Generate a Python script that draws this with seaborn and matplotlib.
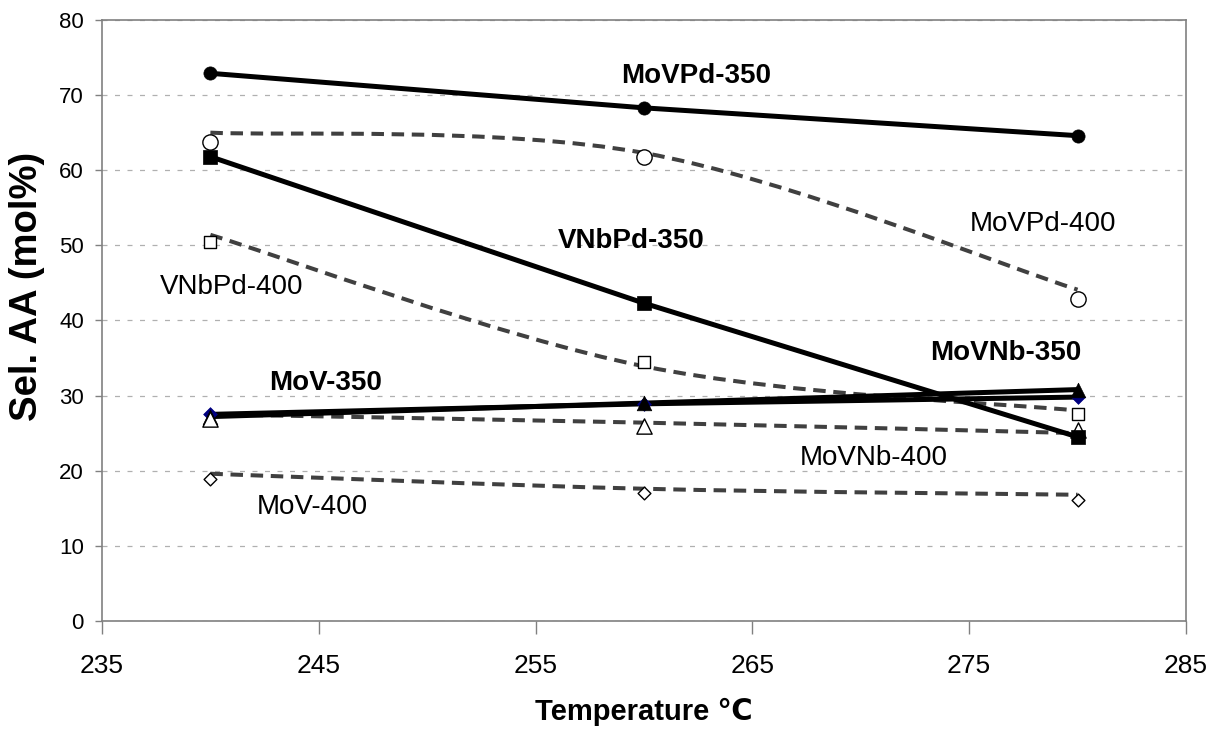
import numpy as np
import pandas as pd
import seaborn as sns
import matplotlib.pyplot as plt
from matplotlib.path import Path
from matplotlib.patches import PathPatch

# temperatures (deg C)
temps = [240, 260, 280]

# calcined at 350 - solid lines, markers on the line
movpd_350 = [72.9, 68.3, 64.6]
vnbpd_350 = [61.8, 42.3, 24.5]
mov_350 = [27.5, 28.9, 29.8]
movnb_350 = [27.2, 29.0, 30.8]

# calcined at 400 - open markers and smoothed dashed curves
movpd_400_pts = [63.8, 61.7, 42.9]
movpd_400_line = [65.0, 62.3, 44.1]
vnbpd_400_pts = [50.5, 34.5, 27.6]
vnbpd_400_line = [51.4, 33.9, 28.0]
movnb_400_pts = [26.9, 26.0, 25.4]
movnb_400_line = [27.5, 26.4, 25.0]
mov_400_pts = [18.9, 17.1, 16.1]
mov_400_line = [19.6, 17.6, 16.8]

yticks = [0, 10, 20, 30, 40, 50, 60, 70, 80]
xticks = [235, 245, 255, 265, 275, 285]

# label text, x, y, bold
labels = [
    ("MoVPd-350", 262.4, 72.5, True),
    ("MoVPd-400", 278.4, 52.8, False),
    ("VNbPd-350", 259.4, 50.6, True),
    ("VNbPd-400", 241.0, 44.5, False),
    ("MoVNb-350", 276.7, 35.7, True),
    ("MoV-350", 245.3, 31.7, True),
    ("MoVNb-400", 270.6, 21.7, False),
    ("MoV-400", 244.7, 15.2, False),
]

sns.set_style("white")
plt.rcParams['font.family'] = ['Liberation Sans', 'DejaVu Sans']
plt.rcParams['text.color'] = 'black'
plt.rcParams['axes.labelcolor'] = 'black'
plt.rcParams['xtick.color'] = '#808080'
plt.rcParams['ytick.color'] = '#808080'
plt.rcParams['xtick.labelcolor'] = 'black'
plt.rcParams['ytick.labelcolor'] = 'black'

fig = plt.figure(figsize=(12.23, 7.34), dpi=100)
ax = fig.add_axes([0.0834, 0.154, 0.8863, 0.8188])


def smooth_dashed(ax, xs, ys):
    # Excel-like smoothed line: cubic bezier segments through the points
    pts = np.column_stack([xs, ys]).astype(float)
    n = len(pts)
    verts = [pts[0]]
    codes = [Path.MOVETO]
    for i in range(n - 1):
        p_prev = pts[i - 1] if i > 0 else pts[i]
        p_next2 = pts[i + 2] if i + 2 < n else pts[i + 1]
        c1 = pts[i] + (pts[i + 1] - p_prev) / 6
        c2 = pts[i + 1] - (p_next2 - pts[i]) / 6
        verts += [c1, c2, pts[i + 1]]
        codes += [Path.CURVE4] * 3
    patch = PathPatch(Path(verts, codes), fill=False, edgecolor='#404040',
                      lw=2.9, linestyle=(0, (3.1, 1.9)), zorder=2,
                      capstyle='butt')
    ax.add_patch(patch)


for line in [movpd_400_line, vnbpd_400_line, movnb_400_line, mov_400_line]:
    smooth_dashed(ax, temps, line)

for vals in [movpd_350, vnbpd_350, mov_350, movnb_350]:
    sns.lineplot(x=temps, y=vals, ax=ax, color='black', lw=3.6, zorder=3)

# markers (draw order roughly as in the original)
sns.scatterplot(x=temps, y=mov_350, ax=ax, marker='D', s=7 ** 2,
                color='#000080', edgecolor='#000080', linewidth=0.5, zorder=4)
sns.scatterplot(x=temps, y=movnb_350, ax=ax, marker='^', s=10.5 ** 2,
                color='black', edgecolor='black', linewidth=0.5, zorder=4.1)

open_sets = [
    (movpd_400_pts, 'o', 11),
    (vnbpd_400_pts, 's', 9),
    (movnb_400_pts, '^', 11),
    (mov_400_pts, 'D', 6.5),
]
for vals, m, ms in open_sets:
    sns.scatterplot(x=temps, y=vals, ax=ax, marker=m, s=ms ** 2,
                    facecolor='white', edgecolor='black', linewidth=1.0,
                    zorder=5)

for vals, m, ms in [(movpd_350, 'o', 9.5), (vnbpd_350, 's', 9.5)]:
    sns.scatterplot(x=temps, y=vals, ax=ax, marker=m, s=ms ** 2,
                    color='black', edgecolor='black', linewidth=0.5, zorder=6)

for txt, x, y, bold in labels:
    ax.text(x, y, txt, ha='center', va='center', fontsize=20,
            fontweight='bold' if bold else 'normal', color='black', zorder=7)

ax.set_xlim(235, 285)
ax.set_ylim(0, 80)
ax.set_xticks(xticks)
ax.set_yticks(yticks)
ax.set_xticklabels([str(t) for t in xticks], fontsize=19)
ax.set_yticklabels([str(t) for t in yticks], fontsize=16)
ax.yaxis.grid(True, color='#b0b0b0', linestyle=(0, (4, 6)), lw=0.9)
ax.xaxis.grid(False)
ax.tick_params(axis='both', which='both', direction='out', width=1.0,
               bottom=True, left=True)
ax.tick_params(axis='x', length=9, pad=15)
ax.tick_params(axis='y', length=5, pad=8)
for sp in ax.spines.values():
    sp.set_color('#808080')
    sp.set_linewidth(1.2)

ax.set_xlabel('Temperature ℃', fontsize=21, fontweight='bold', labelpad=14)
ax.set_ylabel('Sel. AA (mol%)', fontsize=27.5, fontweight='bold', va='center')
ax.yaxis.set_label_coords(-0.069, 0.557)

fig.savefig('out.png', dpi=100)
